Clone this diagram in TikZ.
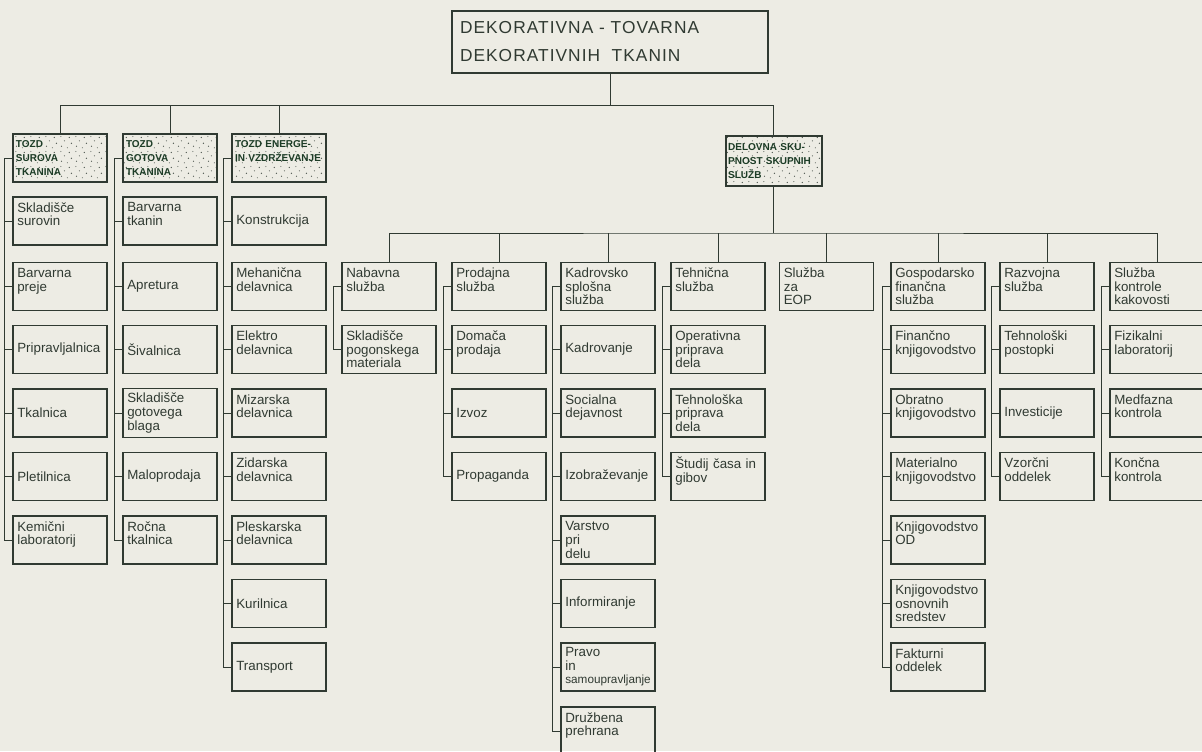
\documentclass[tikz,border=0pt]{standalone}
\usepackage{fontspec}
\setmainfont{Liberation Sans}
\newfontfamily\titlefont[LetterSpace=6]{Liberation Sans}
\usetikzlibrary{patterns}

\definecolor{ink}{RGB}{48,58,50}
\definecolor{headink}{RGB}{28,60,38}
\definecolor{paper}{RGB}{237,236,228}

\pgfdeclarepatternformonly{stipple}{\pgfqpoint{0pt}{0pt}}{\pgfqpoint{11pt}{11pt}}{\pgfqpoint{11pt}{11pt}}{%
	\pgfpathcircle{\pgfqpoint{1.2pt}{2.1pt}}{0.5pt}
	\pgfpathcircle{\pgfqpoint{5.6pt}{0.9pt}}{0.4pt}
	\pgfpathcircle{\pgfqpoint{8.7pt}{4.3pt}}{0.55pt}
	\pgfpathcircle{\pgfqpoint{3.4pt}{6.2pt}}{0.45pt}
	\pgfpathcircle{\pgfqpoint{7.1pt}{8.8pt}}{0.5pt}
	\pgfpathcircle{\pgfqpoint{0.6pt}{9.5pt}}{0.4pt}
	\pgfusepath{fill}}

\tikzset{every picture/.style={line width=0.75pt}}
\tikzset{
	unit/.style={draw=ink, line width=1pt, minimum height=36pt, text width=64pt,
		inner xsep=3.25pt, align=left, text=ink, font=\fontsize{10}{10.2}\selectfont},
	tozd/.style={unit, line width=1.5pt, text width=66pt, inner xsep=2.25pt,
		pattern=stipple, pattern color=ink!85, text=headink,
		font=\fontsize{7.5}{10.5}\selectfont\bfseries},
	topbox/.style={draw=ink, line width=1pt, minimum height=46.5pt, text width=225pt,
		inner xsep=6pt, align=left, text=ink, font=\titlefont\fontsize{13}{21}\selectfont},
	link/.style={draw=ink, line width=0.6pt}}

\begin{document}
\begin{tikzpicture}[x=0.75pt,y=0.75pt,yscale=-1,xscale=1]
	\useasboundingbox (0,0) rectangle (1202,751);
	\fill[paper] (0,0) rectangle (1202,751);

	%Shape: Rectangle [top]
	\node[topbox] (dtt) at (610,42) {DEKORATIVNA - TOVARNA\\DEKORATIVNIH\ \ TKANIN};

	%Shape: Rectangle [TOZD heads]
	\node[tozd] (tozdA) at (60,158) {TOZD\\SUROVA\\TKANINA};
	\node[tozd] (tozdB) at (170,158) {TOZD\\GOTOVA\\TKANINA};
	\node[tozd] (tozdC) at (279,158) {TOZD ENERGE-\\IN VZDRŽEVANJE\\\mbox{}};
	\node[tozd, text width=68pt, inner xsep=2pt, minimum height=37.5pt] (dss) at (773.5,161) {DELOVNA SKU-\\PNOST SKUPNIH\\SLUŽB};

	% Text Node [surova tkanina]
	\node[unit] (sur1) at (60,221) {Skladišče\\surovin\\\mbox{}};
	\node[unit] (sur2) at (60,286.5) {Barvarna\\preje\\\mbox{}};
	\node[unit] (sur3) at (60,349.5) {Pripravljalnica};
	\node[unit] (sur4) at (60,413) {Tkalnica};
	\node[unit] (sur5) at (60,476.5) {Pletilnica};
	\node[unit] (sur6) at (60,540) {Kemični\\laboratorij\\\mbox{}};

	% Text Node [gotova tkanina]
	\node[unit] (got1) at (170,221) {Barvarna\\tkanin\\\mbox{}};
	\node[unit] (got2) at (170,286.5) {Apretura};
	\node[unit] (got3) at (170,349.5) {Šivalnica};
	\node[unit] (got4) at (170,413) {Skladišče\\gotovega\\blaga};
	\node[unit] (got5) at (170,476.5) {Maloprodaja};
	\node[unit] (got6) at (170,540) {Ročna\\tkalnica\\\mbox{}};

	% Text Node [energetika]
	\node[unit] (ene1) at (279,221) {Konstrukcija};
	\node[unit] (ene2) at (279,286.5) {Mehanična\\delavnica\\\mbox{}};
	\node[unit] (ene3) at (279,349.5) {Elektro\\delavnica\\\mbox{}};
	\node[unit] (ene4) at (279,413) {Mizarska\\delavnica\\\mbox{}};
	\node[unit] (ene5) at (279,476.5) {Zidarska\\delavnica\\\mbox{}};
	\node[unit] (ene6) at (279,540) {Pleskarska\\delavnica\\\mbox{}};
	\node[unit] (ene7) at (279,603.5) {Kurilnica};
	\node[unit] (ene8) at (279,667) {Transport};

	% Text Node [skupne sluzbe]
	\node[unit] (nab) at (389,286.5) {Nabavna\\služba\\\mbox{}};
	\node[unit] (nab1) at (389,349.5) {Skladišče\\pogonskega\\materiala};

	\node[unit] (pro) at (499,286.5) {Prodajna\\služba\\\mbox{}};
	\node[unit] (pro1) at (499,349.5) {Domača\\prodaja\\\mbox{}};
	\node[unit] (pro2) at (499,413) {Izvoz};
	\node[unit] (pro3) at (499,476.5) {Propaganda};

	\node[unit] (kad) at (608,286.5) {Kadrovsko\\splošna\\služba};
	\node[unit] (kad1) at (608,349.5) {Kadrovanje};
	\node[unit] (kad2) at (608,413) {Socialna\\dejavnost\\\mbox{}};
	\node[unit] (kad3) at (608,476.5) {Izobraževanje};
	\node[unit] (kad4) at (608,540) {Varstvo\\pri\\delu};
	\node[unit] (kad5) at (608,603.5) {Informiranje};
	\node[unit] (kad6) at (608,667) {Pravo\\in\\{\fontsize{8.8}{10}\selectfont samoupravljanje}};
	\node[unit] (kad7) at (608,731) {Družbena\\prehrana\\\mbox{}};

	\node[unit] (teh) at (718,286.5) {Tehnična\\služba\\\mbox{}};
	\node[unit] (teh1) at (718,349.5) {Operativna\\priprava\\dela};
	\node[unit] (teh2) at (718,413) {Tehnološka\\priprava\\dela};
	\node[unit] (teh3) at (718,476.5) {Študij časa in\\gibov\\\mbox{}};

	\node[unit] (eop) at (826.5,286.5) {Služba\\za\\EOP};

	\node[unit] (gfs) at (938,286.5) {Gospodarsko\\finančna\\služba};
	\node[unit] (gfs1) at (938,349.5) {Finančno\\knjigovodstvo\\\mbox{}};
	\node[unit] (gfs2) at (938,413) {Obratno\\knjigovodstvo\\\mbox{}};
	\node[unit] (gfs3) at (938,476.5) {Materialno\\knjigovodstvo\\\mbox{}};
	\node[unit] (gfs4) at (938,540) {Knjigovodstvo\\OD\\\mbox{}};
	\node[unit] (gfs5) at (938,603.5) {Knjigovodstvo\\osnovnih\\sredstev};
	\node[unit] (gfs6) at (938,667) {Fakturni\\oddelek\\\mbox{}};

	\node[unit] (raz) at (1047,286.5) {Razvojna\\služba\\\mbox{}};
	\node[unit] (raz1) at (1047,349.5) {Tehnološki\\postopki\\\mbox{}};
	\node[unit] (raz2) at (1047,413) {Investicije};
	\node[unit] (raz3) at (1047,476.5) {Vzorčni\\oddelek\\\mbox{}};

	\node[unit] (kak) at (1157,286.5) {Služba\\kontrole\\kakovosti};
	\node[unit] (kak1) at (1157,349.5) {Fizikalni\\laboratorij\\\mbox{}};
	\node[unit] (kak2) at (1157,413) {Medfazna\\kontrola\\\mbox{}};
	\node[unit] (kak3) at (1157,476.5) {Končna\\kontrola\\\mbox{}};

	%Straight Lines [upper bus]
	\draw[link] (dtt.south) -- ++(0,32) coordinate (bus1);
	\draw[link] (tozdA.north) |- (bus1) -| (dss.north);
	\draw[link] (tozdB.north) -- (tozdB.north |- bus1);
	\draw[link] (tozdC.north) -- (tozdC.north |- bus1);

	%Straight Lines [lower bus]
	\draw[link] (dss.south) -- ++(0,46) coordinate (bus2);
	\draw[link] (nab.north) |- (bus2) -| (kak.north);
	\draw[link] (pro.north) -- (pro.north |- bus2);
	\draw[link] (kad.north) -- (kad.north |- bus2);
	\draw[link] (teh.north) -- (teh.north |- bus2);
	\draw[link] (eop.north) -- (eop.north |- bus2);
	\draw[link] (gfs.north) -- (gfs.north |- bus2);
	\draw[link] (raz.north) -- (raz.north |- bus2);

	%Straight Lines [column spines]
	\draw[link] (tozdA.west) -- ++(-8,0) |- (sur6.west) (sur1.west) -- ++(-8,0) (sur2.west) -- ++(-8,0)
		(sur3.west) -- ++(-8,0) (sur4.west) -- ++(-8,0) (sur5.west) -- ++(-8,0);
	\draw[link] (tozdB.west) -- ++(-8,0) |- (got6.west) (got1.west) -- ++(-8,0) (got2.west) -- ++(-8,0)
		(got3.west) -- ++(-8,0) (got4.west) -- ++(-8,0) (got5.west) -- ++(-8,0);
	\draw[link] (tozdC.west) -- ++(-8,0) |- (ene8.west) (ene1.west) -- ++(-8,0) (ene2.west) -- ++(-8,0)
		(ene3.west) -- ++(-8,0) (ene4.west) -- ++(-8,0) (ene5.west) -- ++(-8,0) (ene6.west) -- ++(-8,0)
		(ene7.west) -- ++(-8,0);
	\draw[link] (nab.west) -- ++(-8,0) |- (nab1.west);
	\draw[link] (pro.west) -- ++(-8,0) |- (pro3.west) (pro1.west) -- ++(-8,0) (pro2.west) -- ++(-8,0);
	\draw[link] (kad.west) -- ++(-8,0) |- (kad7.west) (kad1.west) -- ++(-8,0) (kad2.west) -- ++(-8,0)
		(kad3.west) -- ++(-8,0) (kad4.west) -- ++(-8,0) (kad5.west) -- ++(-8,0) (kad6.west) -- ++(-8,0);
	\draw[link] (teh.west) -- ++(-8,0) |- (teh3.west) (teh1.west) -- ++(-8,0) (teh2.west) -- ++(-8,0);
	\draw[link] (gfs.west) -- ++(-8,0) |- (gfs6.west) (gfs1.west) -- ++(-8,0) (gfs2.west) -- ++(-8,0)
		(gfs3.west) -- ++(-8,0) (gfs4.west) -- ++(-8,0) (gfs5.west) -- ++(-8,0);
	\draw[link] (raz.west) -- ++(-8,0) |- (raz3.west) (raz1.west) -- ++(-8,0) (raz2.west) -- ++(-8,0);
	\draw[link] (kak.west) -- ++(-8,0) |- (kak3.west) (kak1.west) -- ++(-8,0) (kak2.west) -- ++(-8,0);

\end{tikzpicture}
\end{document}
